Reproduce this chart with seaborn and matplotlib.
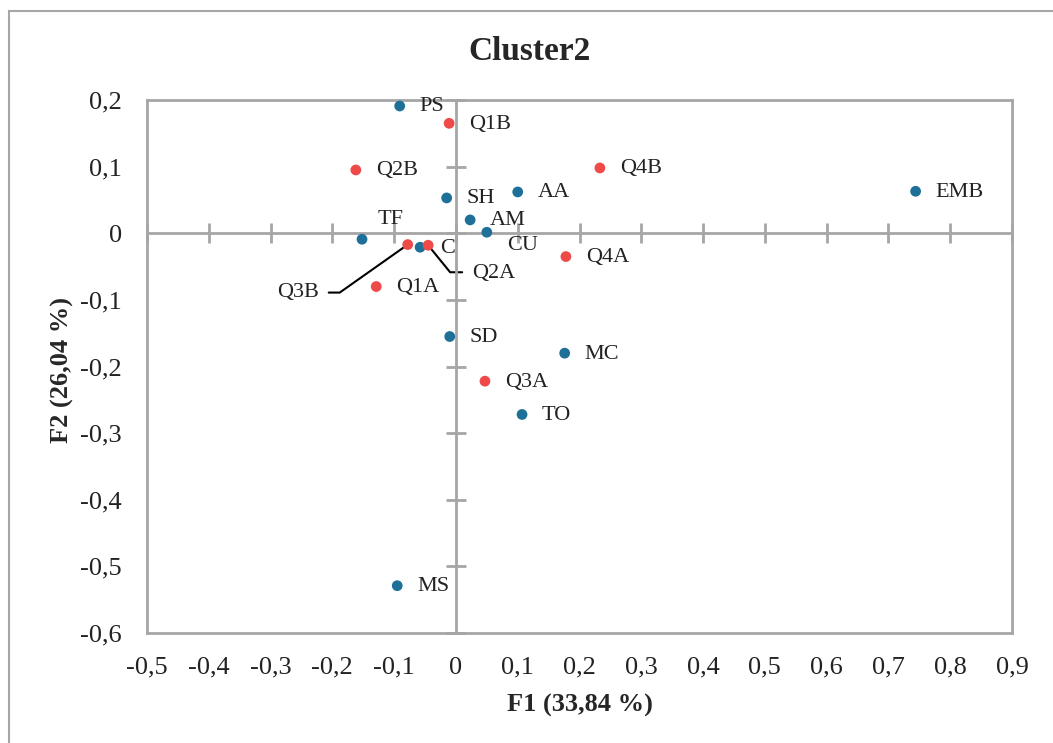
import seaborn as sns
import numpy as np
import pandas as pd
import matplotlib.pyplot as plt
from matplotlib.patches import Rectangle
from matplotlib.ticker import FuncFormatter, FixedLocator

labels = ["PS", "Q1B", "Q2B", "SH", "AA", "Q4B", "EMB", "AM", "CU", "TF",
          "Q3B", "C", "Q2A", "Q4A", "Q1A", "SD", "MC", "Q3A", "TO", "MS"]
f1 = [-0.091, -0.011, -0.162, -0.015, 0.100, 0.233, 0.744, 0.023, 0.050, -0.152,
      -0.078, -0.058, -0.045, 0.178, -0.129, -0.010, 0.176, 0.047, 0.107, -0.095]
f2 = [0.191, 0.165, 0.095, 0.053, 0.062, 0.098, 0.063, 0.020, 0.0015, -0.009,
      -0.017, -0.021, -0.018, -0.035, -0.080, -0.155, -0.180, -0.222, -0.272, -0.529]
group = ["var", "obs", "obs", "var", "var", "obs", "var", "var", "var", "var",
         "obs", "var", "obs", "obs", "obs", "var", "var", "obs", "var", "var"]

xticks = [-0.5, -0.4, -0.3, -0.2, -0.1, 0, 0.1, 0.2, 0.3, 0.4, 0.5, 0.6, 0.7, 0.8, 0.9]
yticks = [-0.6, -0.5, -0.4, -0.3, -0.2, -0.1, 0, 0.1, 0.2]

# label offsets in pixels (dx, dy, ha)
offsets = {"TF": (29, 20, "center"), "CU": (20, -13, "left"),
           "C": (20, -1, "left"), "Q2A": (44, -28, "left"),
           "Q3B": (-131, -48, "left")}
leaders = {"Q2A": [(0, 0), (22, -27), (34, -27)],
           "Q3B": [(0, 0), (-68, -48), (-79, -48)]}

df = pd.DataFrame({"F1": f1, "F2": f2, "lab": labels, "grp": group})

sns.set_style("white")
plt.rcParams["font.family"] = ["Liberation Serif", "DejaVu Serif"]

fig = plt.figure(figsize=(10.53, 7.43), dpi=100)
ax = fig.add_axes([147 / 1053, 1 - 633 / 743, 865 / 1053, 533 / 743])

gray = "#A6A6A6"
sns.scatterplot(data=df, x="F1", y="F2", hue="grp",
                palette={"var": "#1F7099", "obs": "#EF4A4A"},
                s=60, edgecolor="none", legend=False, ax=ax, zorder=3)

ax.set_xlim(xticks[0], xticks[-1])
ax.set_ylim(yticks[0], yticks[-1])

# axes crossing at zero with ticks
ax.spines["left"].set_position(("data", 0))
ax.spines["bottom"].set_position(("data", 0))
for s in ax.spines.values():
    s.set_color(gray)
    s.set_linewidth(2)
ax.xaxis.set_major_locator(FixedLocator(xticks))
ax.yaxis.set_major_locator(FixedLocator(yticks))
ax.tick_params(axis="both", direction="inout", length=14, width=2, color=gray,
               labelbottom=False, labelleft=False, bottom=True, left=True)

fmt = FuncFormatter(lambda v, p: "0" if abs(v) < 1e-9 else f"{v:.1f}".replace(".", ","))
secx = ax.secondary_xaxis(0)
secx.xaxis.set_major_locator(FixedLocator(xticks))
secx.xaxis.set_major_formatter(fmt)
secx.tick_params(length=0, labelsize=19, pad=17, colors="#222222")
secx.spines["bottom"].set_color(gray)
secx.spines["bottom"].set_linewidth(2)
secy = ax.secondary_yaxis(0)
secy.yaxis.set_major_locator(FixedLocator(yticks))
secy.yaxis.set_major_formatter(fmt)
secy.tick_params(length=0, labelsize=19, pad=18, colors="#222222")
secy.spines["left"].set_color(gray)
secy.spines["left"].set_linewidth(2)

ax.set_xlabel("")
ax.set_ylabel("")
fig.text(580 / 1053, 1 - 705 / 743, "F1 (33,84 %)", ha="center", va="center",
         fontsize=19, fontweight="bold")
fig.text(62 / 1053, 1 - 370 / 743, "F2 (26,04 %)", ha="center", va="center",
         rotation=90, fontsize=19, fontweight="bold")

for x, y, lab in zip(f1, f2, labels):
    dx, dy, ha = offsets.get(lab, (20, -1, "left"))
    ax.annotate(lab, (x, y), xytext=(dx, dy), textcoords="offset pixels",
                ha=ha, va="center", fontsize=16, color="#222222", zorder=4)
    if lab in leaders:
        base = ax.transData.transform((x, y))
        disp = [(base[0] + px, base[1] + py) for px, py in leaders[lab]]
        dat = ax.transData.inverted().transform(disp)
        ax.plot(dat[:, 0], dat[:, 1], color="black", lw=1.5, zorder=2)

fig.text(530 / 1053, 1 - 52 / 743, "Cluster2", ha="center", va="center",
         fontsize=24, fontweight="bold")

fig.patches.append(Rectangle((9 / 1053, -0.2), 1.2, 1.2 - 11 / 743,
                             transform=fig.transFigure, fill=False,
                             edgecolor=gray, lw=1.5))

plt.savefig("out.png", dpi=100)
